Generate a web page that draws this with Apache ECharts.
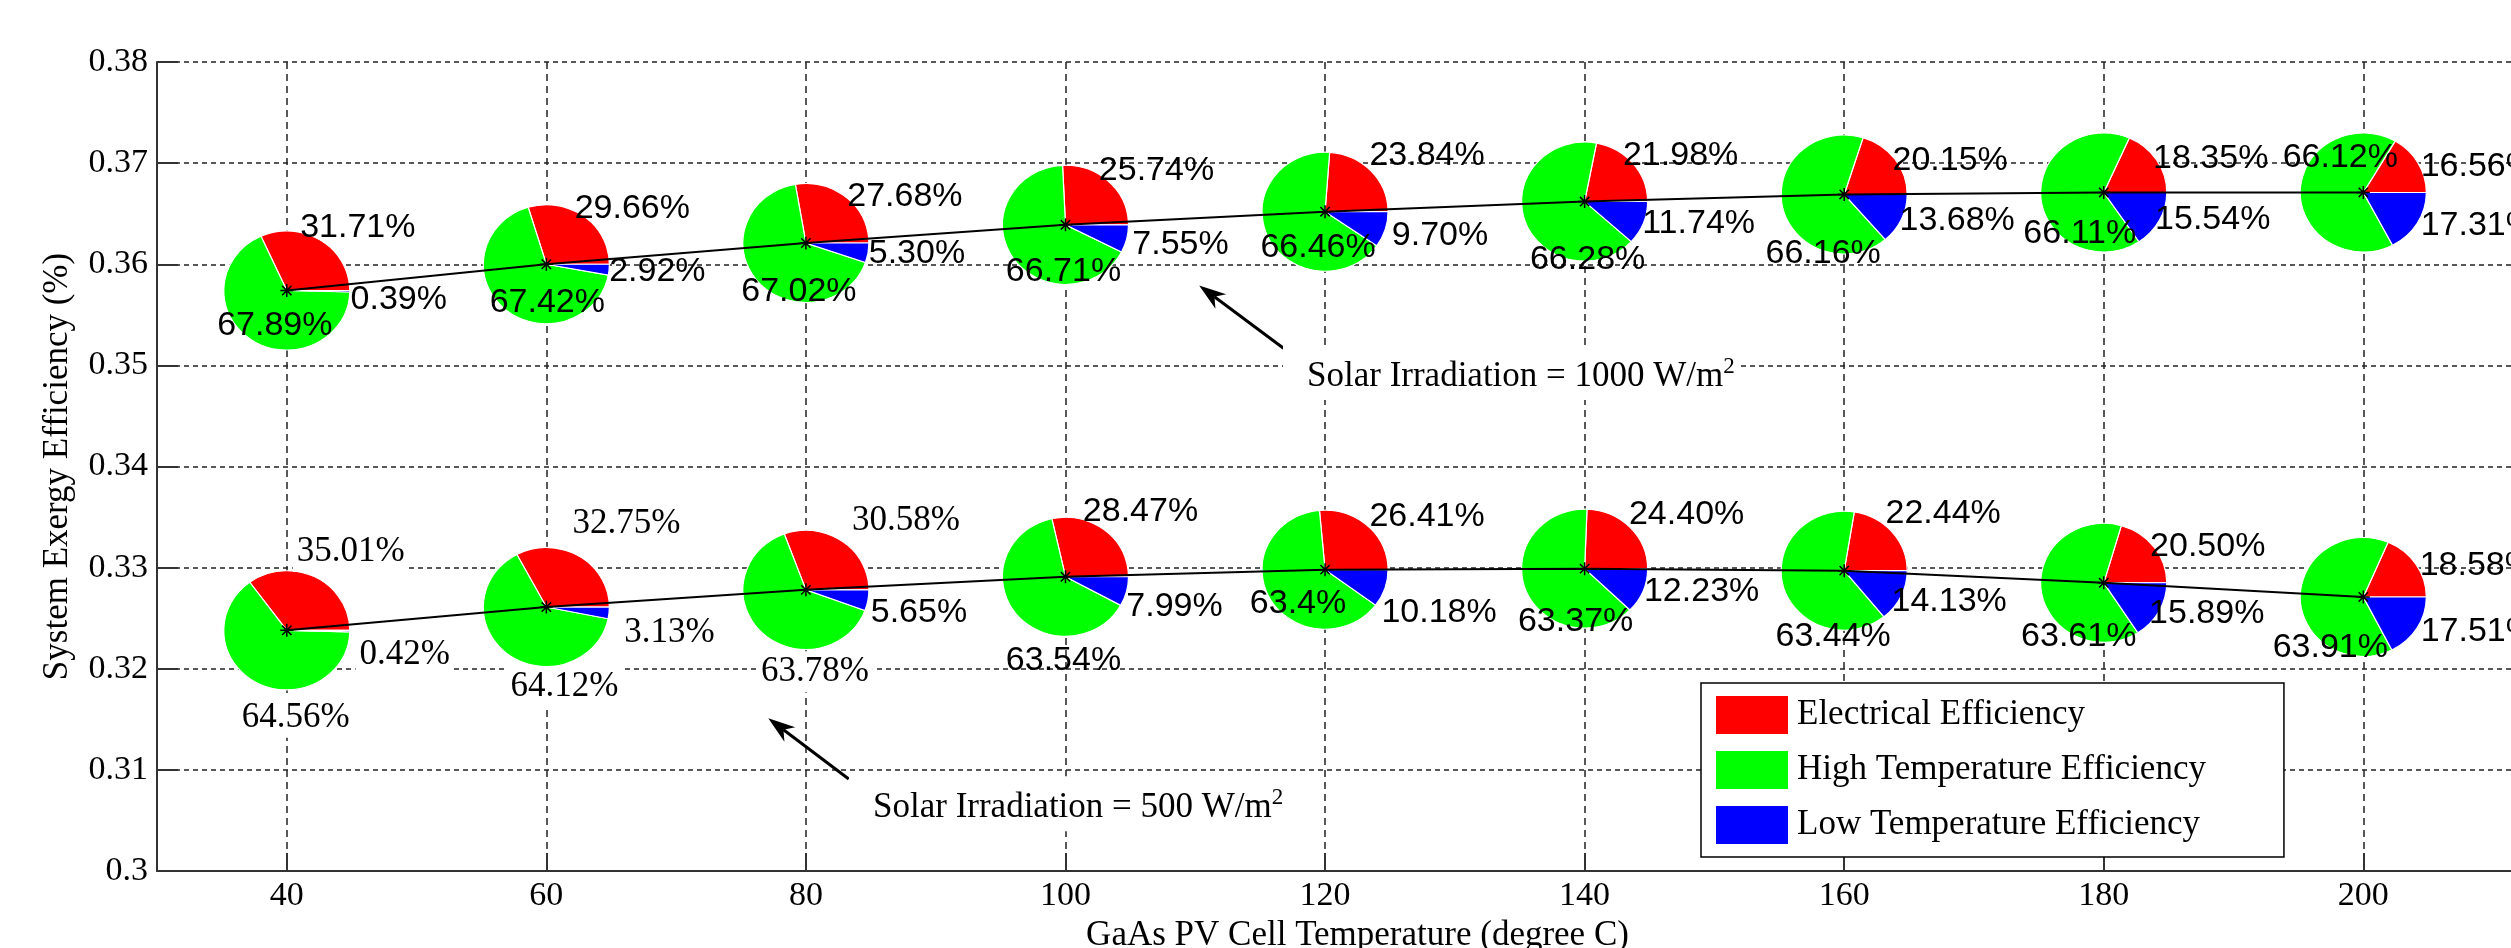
<!DOCTYPE html>
<html>
<head>
<meta charset="utf-8">
<script src="https://cdn.jsdelivr.net/npm/echarts@6/dist/echarts.min.js"></script>
<style>
  html, body { margin: 0; padding: 0; background: #ffffff; }
  #chart { width: 2511px; height: 948px; }
</style>
</head>
<body>
<div id="chart"></div>
<script>
// ---- data -------------------------------------------------------------
const temperatures = [40, 60, 80, 100, 120, 140, 160, 180, 200];   // GaAs PV cell temperature (°C)
const xTickValues = [40, 60, 80, 100, 120, 140, 160, 180, 200];

// system exergy efficiency at each temperature
const exergy1000 = [0.3574, 0.3600, 0.3621, 0.3639, 0.3652, 0.3662, 0.3669, 0.3671, 0.3671];
const exergy500  = [0.3238, 0.3261, 0.3278, 0.3291, 0.3298, 0.3299, 0.3297, 0.3285, 0.3271];

// share of the exergy output (%), 1000 W/m2
const electrical1000 = ['31.71', '29.66', '27.68', '25.74', '23.84', '21.98', '20.15', '18.35', '16.56'];
const highTemp1000   = ['67.89', '67.42', '67.02', '66.71', '66.46', '66.28', '66.16', '66.11', '66.12'];
const lowTemp1000    = ['0.39', '2.92', '5.30', '7.55', '9.70', '11.74', '13.68', '15.54', '17.31'];

// share of the exergy output (%), 500 W/m2
const electrical500 = ['35.01', '32.75', '30.58', '28.47', '26.41', '24.40', '22.44', '20.50', '18.58'];
const highTemp500   = ['64.56', '64.12', '63.78', '63.54', '63.4', '63.37', '63.44', '63.61', '63.91'];
const lowTemp500    = ['0.42', '3.13', '5.65', '7.99', '10.18', '12.23', '14.13', '15.89', '17.51'];

const shareNames = ['Electrical Efficiency', 'High Temperature Efficiency', 'Low Temperature Efficiency'];
const noteTexts = ['Solar Irradiation = 1000 W/m{sup|2}', 'Solar Irradiation = 500 W/m{sup|2}'];

// ---- layout & style ---------------------------------------------------
const SERIF = '"Liberation Serif", "DejaVu Serif", serif';
const SANS = '"Liberation Sans", Arial, sans-serif';
const shareColors = ['#ff0000', '#00ff00', '#0000ff'];
const PIE_RX = 63, PIE_RY = 59.5;

// label centre offsets from each pie centre in px: [electrical, high, low]
const labelOffsets1000 = [
  [[71, -63], [-12, 35], [112, 9]],
  [[86, -56], [1, 38], [111, 7]],
  [[99, -46], [-7, 49], [111, 11]],
  [[91, -54], [-2, 47], [115, 20]],
  [[102, -56], [-7, 36], [115, 24]],
  [[96, -46], [3, 58], [114, 22]],
  [[106, -34], [-21, 59], [113, 26]],
  [[107, -34], [-24, 41], [109, 27]],
  [[115, -26], [-23, -35], [115, 33]]
];
const labelOffsets500 = [
  [[64, -79], [9, 87], [118, 24]],
  [[80, -83], [18, 80], [123, 26]],
  [[100, -69], [9, 82], [113, 23]],
  [[75, -65], [-2, 84], [109, 30]],
  [[102, -53], [-27, 34], [114, 43]],
  [[102, -54], [-9, 53], [117, 23]],
  [[99, -57], [-11, 66], [105, 31]],
  [[104, -36], [-25, 54], [103, 31]],
  [[114, -31], [-33, 51], [115, 35]]
];
// labels set in the serif face with an opaque box
const serifLabels500 = [[1, 1, 1], [1, 1, 1], [1, 1, 0]];

// annotation arrows and note boxes, in data units: [tailT, tailE, tipT, tipE, boxLeftT, boxMidE, noteIndex]
const notes = [
  [116.8, 0.3517, 110.3, 0.3579, 116.76, 0.34929, 0],
  [83.3, 0.3091, 77.1, 0.3151, 83.32, 0.30666, 1]
];

// ---- build pie slices and labels --------------------------------------
const groups = [
  { exergy: exergy1000, shares: [electrical1000, highTemp1000, lowTemp1000], offsets: labelOffsets1000, serif: [] },
  { exergy: exergy500, shares: [electrical500, highTemp500, lowTemp500], offsets: labelOffsets500, serif: serifLabels500 }
];

const sliceData = [[], [], []];
const labelItems = [];
const labelData = [];
groups.forEach(function (g) {
  temperatures.forEach(function (t, i) {
    const vals = g.shares.map(function (s) { return Number(s[i]); });
    const total = vals.reduce(function (a, b) { return a + b; }, 0);
    let acc = 0;
    vals.forEach(function (v, k) {
      sliceData[k].push([t, g.exergy[i], acc / total, (acc + v) / total]);
      acc += v;
      const serif = !!(g.serif[i] && g.serif[i][k]);
      labelItems.push({ text: g.shares[k][i] + '%', dx: g.offsets[i][k][0], dy: g.offsets[i][k][1], serif: serif });
      labelData.push([t, g.exergy[i], labelItems.length - 1]);
    });
  });
});

const sliceSeries = shareNames.map(function (name, k) {
  return {
    type: 'custom',
    name: name,
    coordinateSystem: 'cartesian2d',
    data: sliceData[k],
    encode: { x: 0, y: 1 },
    z: 2,
    silent: true,
    itemStyle: { color: shareColors[k] },
    renderItem: function (params, api) {
      const c = api.coord([api.value(0), api.value(1)]);
      const a0 = api.value(2) * Math.PI * 2;
      const a1 = api.value(3) * Math.PI * 2;
      return {
        type: 'sector',
        x: c[0], y: c[1],
        scaleY: PIE_RY / PIE_RX,
        shape: { cx: 0, cy: 0, r0: 0, r: PIE_RX, startAngle: -a1, endAngle: -a0, clockwise: true },
        style: { fill: shareColors[k], stroke: '#ffffff', lineWidth: 1.2 }
      };
    }
  };
});

const labelSeries = {
  type: 'custom',
  name: 'shares',
  coordinateSystem: 'cartesian2d',
  data: labelData,
  encode: { x: 0, y: 1 },
  z: 5,
  silent: true,
  renderItem: function (params, api) {
    const c = api.coord([api.value(0), api.value(1)]);
    const it = labelItems[api.value(2)];
    return {
      type: 'text',
      x: c[0] + it.dx,
      y: c[1] + it.dy,
      style: {
        text: it.text,
        fontFamily: it.serif ? SERIF : SANS,
        fontSize: it.serif ? 35 : 34,
        fill: '#000000',
        align: 'center',
        verticalAlign: 'middle',
        backgroundColor: it.serif ? '#ffffff' : 'transparent',
        padding: it.serif ? [3, 4, 3, 4] : 0
      }
    };
  }
};

const starSymbol = 'path://M0,-1L0,1M-1,0L1,0M-0.72,-0.72L0.72,0.72M-0.72,0.72L0.72,-0.72';
function curve(name, values) {
  return {
    type: 'line',
    name: name,
    data: temperatures.map(function (t, i) { return [t, values[i]]; }),
    z: 4,
    silent: true,
    symbol: starSymbol,
    symbolSize: 13,
    itemStyle: { color: 'transparent', borderColor: '#000000', borderWidth: 1.5 },
    lineStyle: { color: '#000000', width: 2 }
  };
}

const noteSeries = {
  type: 'custom',
  name: 'notes',
  coordinateSystem: 'cartesian2d',
  data: notes,
  encode: { x: 0, y: 1 },
  z: 6,
  silent: true,
  renderItem: function (params, api) {
    const tail = api.coord([api.value(0), api.value(1)]);
    const tip = api.coord([api.value(2), api.value(3)]);
    const box = api.coord([api.value(4), api.value(5)]);
    const dx = tip[0] - tail[0], dy = tip[1] - tail[1];
    const len = Math.sqrt(dx * dx + dy * dy);
    const ux = dx / len, uy = dy / len, nx = -uy, ny = ux;
    const headLen = 27, headHalf = 9, notch = 19;
    const base = [tip[0] - ux * headLen, tip[1] - uy * headLen];
    const back = [tip[0] - ux * notch, tip[1] - uy * notch];
    return {
      type: 'group',
      children: [
        {
          type: 'line',
          shape: { x1: tail[0], y1: tail[1], x2: back[0], y2: back[1] },
          style: { stroke: '#000000', lineWidth: 3 }
        },
        {
          type: 'polygon',
          shape: { points: [tip, [base[0] + nx * headHalf, base[1] + ny * headHalf], back, [base[0] - nx * headHalf, base[1] - ny * headHalf]] },
          style: { fill: '#000000' }
        },
        {
          type: 'text',
          x: box[0], y: box[1],
          style: {
            text: noteTexts[api.value(6)],
            fontFamily: SERIF,
            fontSize: 35,
            lineHeight: 43,
            fill: '#000000',
            align: 'left',
            verticalAlign: 'middle',
            backgroundColor: '#ffffff',
            padding: [10, 6, 2, 24],
            rich: { sup: { fontFamily: SERIF, fontSize: 23, fill: '#000000', verticalAlign: 'top', lineHeight: 43 } }
          }
        }
      ]
    };
  }
};

const chart = echarts.init(document.getElementById('chart'), null, { renderer: 'canvas' });
chart.setOption({
  animation: false,
  backgroundColor: '#ffffff',
  grid: { left: 157, top: 62, width: 2401, height: 809, containLabel: false, outerBoundsMode: 'none' },
  legend: {
    data: shareNames,
    orient: 'vertical',
    left: 1701,
    top: 683,
    icon: 'rect',
    itemWidth: 72,
    itemHeight: 38,
    itemGap: 17,
    padding: [13, 78, 13, 15],
    borderColor: '#000000',
    borderWidth: 1.5,
    backgroundColor: '#ffffff',
    selectedMode: false,
    textStyle: { fontFamily: SERIF, fontSize: 35, color: '#000000', padding: [0, 0, 0, 4] }
  },
  xAxis: {
    type: 'value',
    min: 30,
    max: 215,
    name: 'GaAs PV Cell Temperature (degree C)',
    nameLocation: 'middle',
    nameGap: 44,
    nameTextStyle: { fontFamily: SERIF, fontSize: 35, color: '#000000' },
    axisLine: { show: true, onZero: false, lineStyle: { color: '#333333', width: 2 } },
    axisTick: { show: true, inside: true, length: 18, customValues: xTickValues, lineStyle: { color: '#333333', width: 2 } },
    axisLabel: { customValues: xTickValues, fontFamily: SERIF, fontSize: 34, color: '#000000', margin: 8 },
    splitLine: { show: true, lineStyle: { color: '#222222', width: 1.5, type: [7, 5] } }
  },
  yAxis: {
    type: 'value',
    min: 0.3,
    max: 0.38,
    interval: 0.01,
    name: 'System Exergy Efficiency (%)',
    nameLocation: 'middle',
    nameRotate: 90,
    nameGap: 82,
    nameTextStyle: { fontFamily: SERIF, fontSize: 35, color: '#000000' },
    axisLine: { show: true, lineStyle: { color: '#333333', width: 2 } },
    axisTick: { show: true, inside: true, length: 21, lineStyle: { color: '#333333', width: 2 } },
    axisLabel: {
      fontFamily: SERIF, fontSize: 34, color: '#000000', margin: 9,
      formatter: function (v) { return String(Number(v.toFixed(2))); }
    },
    splitLine: { show: true, lineStyle: { color: '#222222', width: 1.5, type: [5, 4] } }
  },
  series: sliceSeries.concat([
    curve('Solar Irradiation = 1000 W/m2', exergy1000),
    curve('Solar Irradiation = 500 W/m2', exergy500),
    labelSeries,
    noteSeries
  ])
});
</script>
</body>
</html>
